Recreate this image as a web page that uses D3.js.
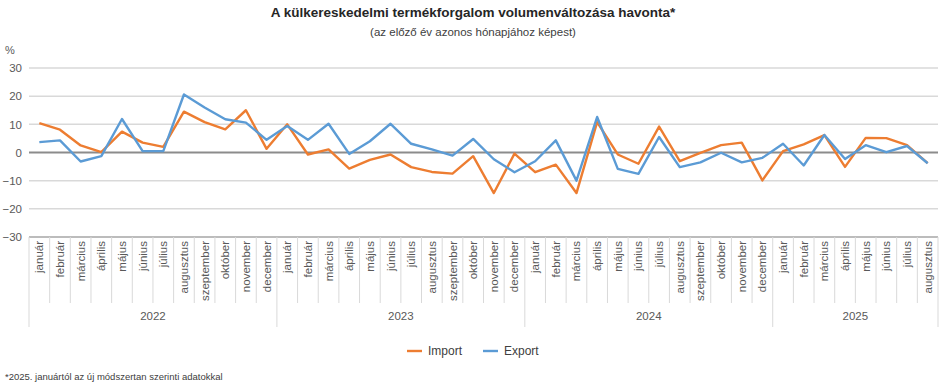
<!DOCTYPE html>
<html>
<head>
<meta charset="utf-8">
<script src="https://cdn.jsdelivr.net/npm/d3@7"></script>
<style>
  body { margin: 0; background: #fff; }
  svg { display: block; font-family: "Liberation Sans", Arial, sans-serif; }
</style>
</head>
<body>
<svg id="chart" width="946" height="386"></svg>
<script>
const monthNames = ['január', 'február', 'március', 'április', 'május', 'június', 'július',
  'augusztus', 'szeptember', 'október', 'november', 'december']
const years = ['2022', '2023', '2024', '2025']
const yTicks = [-30, -20, -10, 0, 10, 20, 30]

const importValues = [
  10.4, 8.1, 2.5, 0.1, 7.4, 3.5, 2.0, 14.5, 10.8, 8.2, 15.0, 1.3,
  10.0, -0.7, 1.1, -5.7, -2.6, -0.7, -5.2, -6.9, -7.5, -1.3, -14.4, -0.4,
  -7.0, -4.3, -14.4, 10.8, -0.7, -4.0, 9.2, -3.1, -0.1, 2.6, 3.5, -9.9,
  0.5, 2.9, 6.2, -5.1, 5.2, 5.1, 2.6, -3.8
]
const exportValues = [
  3.7, 4.3, -3.2, -1.3, 11.9, 0.5, 0.5, 20.6, 16.0, 11.8, 10.6, 4.5,
  9.4, 4.5, 10.2, -0.5, 4.0, 10.2, 3.1, 1.1, -1.1, 4.8, -2.4, -7.0,
  -3.1, 4.3, -10.0, 12.6, -5.8, -7.6, 5.5, -5.2, -3.5, -0.1, -3.5, -1.9,
  3.1, -4.6, 6.2, -2.3, 2.6, 0.1, 2.3, -3.8
]

// build the list of months Jan 2022 .. Aug 2025
const months = importValues.map((v, i) => ({
  key: i,
  month: monthNames[i % 12],
  year: years[Math.floor(i / 12)],
  imp: v,
  exp: exportValues[i]
}))

const svg = d3.select('#chart')
const plotLeft = 29
const plotRight = 938
const plotTop = 68
const plotBottom = 237

const xScale = d3.scaleBand().domain(months.map(d => d.key)).range([plotLeft, plotRight])
const yScale = d3.scaleLinear().domain([-30, 30]).range([plotBottom, plotTop])

// title
svg.append('text')
  .attr('x', 473).attr('y', 17)
  .attr('text-anchor', 'middle')
  .style('font-size', '13.5px').style('font-weight', 'bold').style('fill', '#262626')
  .text('A külkereskedelmi termékforgalom volumenváltozása havonta*')
svg.append('text')
  .attr('x', 473).attr('y', 36)
  .attr('text-anchor', 'middle')
  .style('font-size', '11.5px').style('fill', '#404040')
  .text('(az előző év azonos hónapjához képest)')
svg.append('text')
  .attr('x', 5).attr('y', 54)
  .style('font-size', '11px').style('fill', '#595959')
  .text('%')

// gridlines
svg.append('g').selectAll('line')
  .data(yTicks)
  .enter()
  .append('line')
  .attr('x1', plotLeft).attr('x2', plotRight)
  .attr('y1', d => yScale(d)).attr('y2', d => yScale(d))
  .style('stroke', d => d === 0 ? '#8c8c8c' : (d === -30 ? '#a6a6a6' : '#d9d9d9'))
  .style('stroke-width', d => d === 0 ? 2 : 1.5)

// y axis labels
const yAxis = svg.append('g')
  .attr('transform', `translate(${plotLeft - 7}, 0)`)
  .call(d3.axisLeft(yScale).tickValues(yTicks).tickSize(0).tickPadding(0))
yAxis.select('.domain').remove()
yAxis.selectAll('text')
  .style('font-size', '11.5px')
  .style('font-family', '"Liberation Sans", Arial, sans-serif')
  .style('fill', '#595959')

// month separators
const bw = xScale.bandwidth()
const bounds = d3.range(months.length + 1)
svg.append('g').selectAll('line')
  .data(bounds)
  .enter()
  .append('line')
  .attr('x1', d => plotLeft + d * bw).attr('x2', d => plotLeft + d * bw)
  .attr('y1', plotBottom)
  .attr('y2', d => (d % 12 === 0 || d === months.length) ? 327 : 303)
  .style('stroke', '#d9d9d9')
  .style('stroke-width', 1)

// month labels
svg.append('g').selectAll('text')
  .data(months)
  .enter()
  .append('text')
  .attr('transform', d => `translate(${xScale(d.key) + bw / 2 + 4}, 241) rotate(-90)`)
  .attr('text-anchor', 'end')
  .style('font-size', '11.5px')
  .style('fill', '#595959')
  .text(d => d.month)

// year labels
const yearGroups = d3.groups(months, d => d.year)
svg.append('g').selectAll('text')
  .data(yearGroups)
  .enter()
  .append('text')
  .attr('x', d => {
    const first = xScale(d[1][0].key)
    const last = xScale(d[1][d[1].length - 1].key) + bw
    return (first + last) / 2
  })
  .attr('y', 320)
  .attr('text-anchor', 'middle')
  .style('font-size', '11.5px')
  .style('fill', '#595959')
  .text(d => d[0])

// lines
const series = [
  { name: 'Import', field: 'imp', color: '#ed7d31' },
  { name: 'Export', field: 'exp', color: '#5b9bd5' }
]
series.forEach(s => {
  const line = d3.line()
    .x(d => xScale(d.key) + bw / 2)
    .y(d => yScale(d[s.field]))
  svg.append('path')
    .datum(months)
    .attr('d', line)
    .style('fill', 'none')
    .style('stroke', s.color)
    .style('stroke-width', 2.4)
    .style('stroke-linejoin', 'round')
})

// legend
const legendX = [407, 483]
series.forEach((s, i) => {
  const g = svg.append('g').attr('transform', `translate(${legendX[i]}, 351)`)
  g.append('line')
    .attr('x1', 0).attr('x2', 15).attr('y1', 0).attr('y2', 0)
    .style('stroke', s.color).style('stroke-width', 2.4)
  g.append('text')
    .attr('x', 21).attr('y', 4)
    .style('font-size', '12px').style('fill', '#404040')
    .text(s.name)
})

// footnote
svg.append('text')
  .attr('x', 5).attr('y', 380)
  .style('font-size', '9.5px').style('fill', '#404040')
  .text('*2025. januártól az új módszertan szerinti adatokkal')
</script>
</body>
</html>
